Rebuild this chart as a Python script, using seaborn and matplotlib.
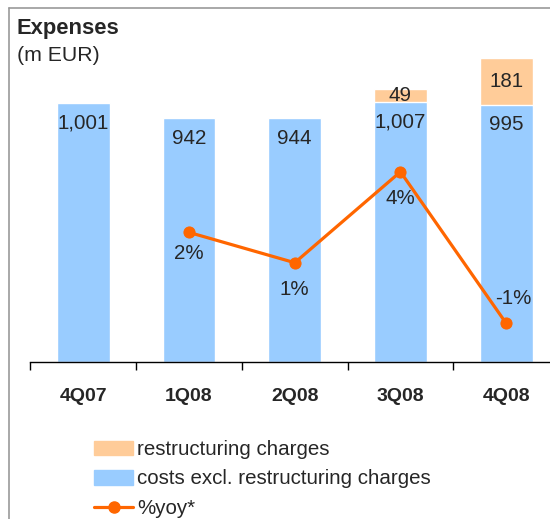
import matplotlib
matplotlib.use("Agg")
import matplotlib.pyplot as plt
from matplotlib.lines import Line2D
from matplotlib.patches import Patch
import seaborn as sns
import pandas as pd

# values
quarters = ['4Q07', '1Q08', '2Q08', '3Q08', '4Q08']
costs = [1001, 942, 944, 1007, 995]
restructuring = [0, 0, 0, 49, 181]
yoy_quarters = ['1Q08', '2Q08', '3Q08', '4Q08']
yoy = [2, 1, 4, -1]

BLUE = '#99CCFF'
PEACH = '#FFCC99'
ORANGE = '#FF6600'

sns.set_style('white')
plt.rcParams['font.family'] = ['Liberation Sans', 'DejaVu Sans']

df = pd.DataFrame({'quarter': quarters, 'costs': costs, 'restr': restructuring})
df['total'] = df['costs'] + df['restr']

fig = plt.figure(figsize=(5.5, 5.19), dpi=100)
ax = fig.add_axes([30.5 / 550, 157 / 519, 528.5 / 550, 354 / 519])

sns.barplot(data=df, x='quarter', y='total', color=PEACH, width=0.5,
            saturation=1, ax=ax)
sns.barplot(data=df, x='quarter', y='costs', color=BLUE, width=0.5,
            saturation=1, ax=ax)

ax.set_xlim(-0.5, 4.5)
ax.set_ylim(0, 1369)
ax.set_xlabel('')
ax.set_ylabel('')
ax.set_yticks([])
for s in ['top', 'right', 'left']:
    ax.spines[s].set_visible(False)
ax.spines['bottom'].set_color('black')
ax.spines['bottom'].set_linewidth(1)

# ticks between categories, labels centred under bars
ax.set_xticks([i - 0.5 for i in range(6)])
ax.set_xticklabels([])
ax.set_xticks(range(5), minor=True)
ax.set_xticklabels(quarters, minor=True, fontweight='bold', fontsize=14)
ax.tick_params(axis='x', which='major', direction='out', length=6, width=1,
               color='black', bottom=True)
ax.tick_params(axis='x', which='minor', length=0, pad=19)

FS = 14.8
for i, row in df.iterrows():
    ax.annotate(f"{row['costs']:,}", (i, row['costs']), xytext=(0, -14.5),
                textcoords='offset points', ha='center', va='center',
                fontsize=FS)
    if row['restr'] > 0:
        ax.text(i, row['costs'] + row['restr'] / 2, f"{row['restr']}",
                ha='center', va='center', fontsize=FS)

# %yoy line on a second scale
ax2 = ax.twinx()
line_df = pd.DataFrame({'x': [quarters.index(q) for q in yoy_quarters], 'yoy': yoy})
sns.lineplot(data=line_df, x='x', y='yoy', color=ORANGE, linewidth=2.3,
             marker='o', markersize=8, markeredgecolor=ORANGE, ax=ax2)
ax2.set_ylim(-2.277, 9.406)
ax2.set_xlim(-0.5, 4.5)
ax2.set_yticks([])
ax2.set_ylabel('')
ax2.set_xlabel('')
for s in ax2.spines.values():
    s.set_visible(False)

label_offsets = [(0, -15), (0, -19), (0, -19), (5, 18)]
for x, v, off in zip(line_df['x'], yoy, label_offsets):
    ax2.annotate(f"{v}%", (x, v), xytext=off, textcoords='offset points',
                 ha='center', va='center', fontsize=FS)

# title
fig.text(17 / 550, 1 - 34 / 519, 'Expenses', fontsize=15.8, fontweight='bold',
         va='baseline', ha='left')
fig.text(17 / 550, 1 - 61 / 519, '(m EUR)', fontsize=15.3, va='baseline', ha='left')

# legend
handles = [Patch(color=PEACH), Patch(color=BLUE),
           Line2D([], [], color=ORANGE, linewidth=2.3, marker='o', markersize=8)]
labels = ['restructuring charges', 'costs excl. restructuring charges', '%yoy*']
fig.legend(handles, labels, loc='upper left', bbox_to_anchor=(86 / 550, 1 - 432 / 519),
           frameon=False, fontsize=FS, handlelength=1.9, handleheight=0.7,
           labelspacing=0.5, handletextpad=0.2, borderaxespad=0)

# grey frame on top and left
fig.add_artist(Line2D([9 / 550, 1], [1 - 8 / 519, 1 - 8 / 519], color='#999999',
                      linewidth=1.2, transform=fig.transFigure))
fig.add_artist(Line2D([9 / 550, 9 / 550], [0, 1 - 8 / 519], color='#999999',
                      linewidth=1.2, transform=fig.transFigure))

fig.savefig('out.png', dpi=100)
